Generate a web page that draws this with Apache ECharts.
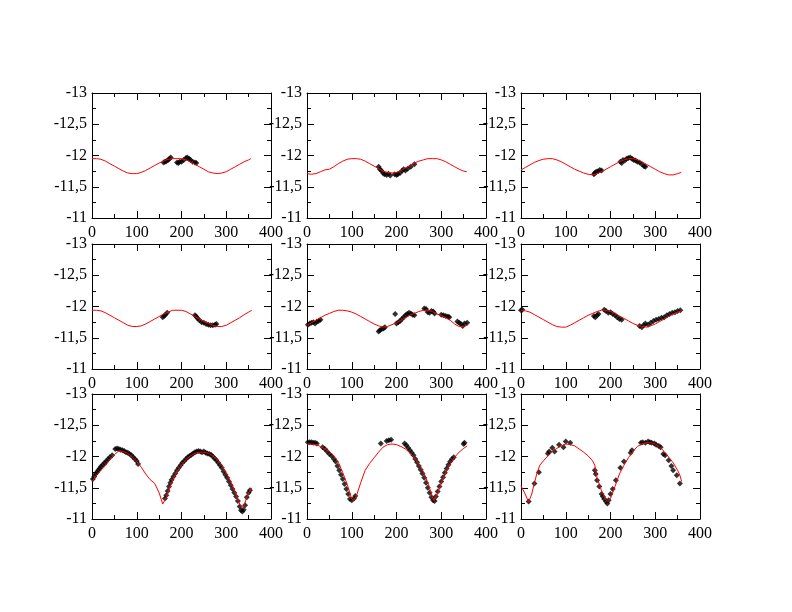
<!DOCTYPE html>
<html>
<head>
<meta charset="utf-8">
<script src="https://cdn.jsdelivr.net/npm/echarts@6/dist/echarts.min.js"></script>
<style>
  html, body { margin: 0; padding: 0; background: #fff; }
  #chart { width: 792px; height: 612px; }
</style>
</head>
<body>
<div id="chart"></div>
<script>
// x ticks / y ticks
var xTicks = [0, 100, 200, 300, 400];
var yTicks = [-13, -12.5, -12, -11.5, -11];

// panel 1 (row 1, col 1)
var model1 = [[0,-11.95],[10,-11.95],[20,-11.94],[30,-11.91],[40,-11.87],[50,-11.83],[60,-11.79],[70,-11.75],[80,-11.72],[90,-11.71],[100,-11.71],[110,-11.73],[120,-11.76],[130,-11.80],[140,-11.84],[150,-11.88],[160,-11.91],[170,-11.94],[180,-11.95],[190,-11.95],[200,-11.95],[210,-11.93],[220,-11.90],[230,-11.86],[240,-11.82],[250,-11.78],[260,-11.74],[270,-11.72],[280,-11.71],[290,-11.72],[300,-11.74],[310,-11.78],[320,-11.82],[330,-11.86],[340,-11.90],[350,-11.93],[355,-11.95]];
var obs1 = [[160,-11.89],[163,-11.90],[166,-11.91],[170,-11.93],[173,-11.95],[176,-11.97],[190,-11.89],[193,-11.88],[196,-11.90],[200,-11.90],[205,-11.93],[210,-11.96],[213,-11.97],[217,-11.95],[220,-11.93],[225,-11.90],[230,-11.89],[233,-11.88]];

// panel 2 (row 1, col 2)
var model2 = [[0,-11.71],[10,-11.70],[20,-11.71],[30,-11.74],[40,-11.77],[50,-11.78],[60,-11.82],[70,-11.87],[80,-11.91],[90,-11.94],[100,-11.95],[110,-11.95],[120,-11.94],[130,-11.91],[140,-11.87],[150,-11.83],[160,-11.79],[170,-11.75],[180,-11.73],[190,-11.72],[200,-11.73],[210,-11.76],[220,-11.80],[230,-11.84],[240,-11.88],[250,-11.91],[260,-11.93],[270,-11.95],[280,-11.95],[290,-11.95],[300,-11.93],[310,-11.90],[320,-11.86],[330,-11.82],[340,-11.78],[350,-11.75],[357,-11.74]];
var obs2 = [[160,-11.82],[163,-11.78],[166,-11.76],[170,-11.72],[173,-11.70],[178,-11.69],[182,-11.71],[186,-11.68],[196,-11.70],[200,-11.69],[203,-11.70],[208,-11.72],[213,-11.76],[216,-11.78],[220,-11.76],[225,-11.79],[232,-11.82],[240,-11.86]];

// panel 3 (row 1, col 3)
var model3 = [[0,-11.77],[10,-11.81],[20,-11.85],[30,-11.89],[40,-11.92],[50,-11.94],[60,-11.95],[70,-11.95],[80,-11.93],[90,-11.90],[100,-11.86],[110,-11.82],[120,-11.78],[130,-11.75],[140,-11.72],[150,-11.70],[160,-11.69],[170,-11.71],[180,-11.74],[190,-11.78],[200,-11.82],[210,-11.86],[220,-11.90],[230,-11.93],[240,-11.95],[250,-11.95],[260,-11.93],[270,-11.90],[280,-11.86],[290,-11.82],[300,-11.78],[310,-11.74],[320,-11.71],[330,-11.69],[340,-11.69],[350,-11.71],[358,-11.73]];
var obs3 = [[163,-11.70],[165,-11.72],[168,-11.74],[172,-11.75],[176,-11.77],[180,-11.76],[222,-11.90],[225,-11.88],[228,-11.93],[232,-11.92],[236,-11.95],[240,-11.96],[244,-11.97],[248,-11.95],[252,-11.93],[256,-11.92],[260,-11.90],[265,-11.89],[270,-11.86],[275,-11.83],[278,-11.82]];

// panel 4 (row 2, col 1)
var model4 = [[0,-11.94],[10,-11.94],[20,-11.93],[30,-11.90],[40,-11.86],[50,-11.82],[60,-11.78],[70,-11.74],[80,-11.70],[90,-11.68],[100,-11.68],[110,-11.69],[120,-11.72],[130,-11.76],[140,-11.80],[150,-11.84],[160,-11.88],[170,-11.91],[180,-11.94],[190,-11.94],[200,-11.94],[210,-11.92],[220,-11.88],[230,-11.84],[240,-11.80],[250,-11.76],[260,-11.73],[270,-11.70],[280,-11.68],[290,-11.68],[300,-11.70],[310,-11.74],[320,-11.78],[330,-11.82],[340,-11.87],[350,-11.91],[357,-11.94]];
var obs4 = [[158,-11.83],[161,-11.85],[164,-11.87],[168,-11.90],[230,-11.86],[233,-11.84],[236,-11.81],[240,-11.78],[245,-11.75],[250,-11.74],[255,-11.72],[260,-11.71],[265,-11.70],[270,-11.70],[275,-11.71],[278,-11.72]];

// panel 5 (row 2, col 2)
var model5 = [[0,-11.70],[10,-11.74],[20,-11.78],[30,-11.82],[40,-11.86],[50,-11.89],[60,-11.92],[70,-11.94],[80,-11.94],[90,-11.93],[100,-11.91],[110,-11.88],[120,-11.84],[130,-11.80],[140,-11.76],[150,-11.72],[160,-11.69],[170,-11.67],[180,-11.68],[190,-11.71],[200,-11.74],[210,-11.78],[220,-11.82],[230,-11.86],[240,-11.89],[250,-11.92],[260,-11.94],[270,-11.94],[280,-11.92],[290,-11.88],[300,-11.86],[310,-11.82],[320,-11.78],[330,-11.72],[340,-11.68],[350,-11.68],[358,-11.70]];
var obs5 = [[2,-11.71],[6,-11.73],[10,-11.74],[14,-11.75],[18,-11.73],[22,-11.76],[26,-11.77],[30,-11.79],[160,-11.60],[163,-11.62],[167,-11.64],[171,-11.65],[174,-11.67],[197,-11.88],[200,-11.73],[204,-11.75],[208,-11.77],[212,-11.80],[216,-11.83],[220,-11.86],[224,-11.88],[228,-11.90],[232,-11.89],[236,-11.87],[240,-11.86],[262,-11.97],[266,-11.96],[270,-11.91],[274,-11.90],[278,-11.93],[282,-11.92],[285,-11.89],[300,-11.87],[305,-11.86],[310,-11.85],[315,-11.84],[318,-11.83],[336,-11.76],[340,-11.74],[344,-11.72],[348,-11.69],[352,-11.73],[358,-11.74]];

// panel 6 (row 2, col 3)
var model6 = [[0,-11.94],[10,-11.93],[20,-11.91],[30,-11.87],[40,-11.83],[50,-11.79],[60,-11.75],[70,-11.71],[80,-11.68],[90,-11.67],[100,-11.67],[110,-11.70],[120,-11.74],[130,-11.78],[140,-11.82],[150,-11.86],[160,-11.89],[170,-11.92],[180,-11.94],[190,-11.94],[200,-11.92],[210,-11.89],[220,-11.85],[230,-11.81],[240,-11.77],[250,-11.73],[260,-11.70],[270,-11.68],[280,-11.67],[290,-11.69],[300,-11.72],[310,-11.76],[320,-11.80],[330,-11.84],[340,-11.88],[350,-11.91],[359,-11.93]];
var obs6 = [[0,-11.94],[3,-11.95],[163,-11.85],[166,-11.83],[170,-11.86],[173,-11.88],[186,-11.95],[190,-11.93],[195,-11.90],[200,-11.91],[205,-11.88],[210,-11.86],[215,-11.83],[220,-11.80],[225,-11.79],[265,-11.69],[270,-11.67],[274,-11.70],[278,-11.73],[284,-11.71],[290,-11.74],[296,-11.77],[302,-11.79],[308,-11.80],[314,-11.82],[320,-11.83],[326,-11.86],[332,-11.88],[338,-11.90],[344,-11.91],[350,-11.93],[356,-11.94]];

// panel 7 (row 3, col 1)
var model7 = [[0,-11.60],[10,-11.70],[20,-11.78],[30,-11.85],[40,-11.95],[50,-12.03],[60,-12.09],[70,-12.08],[80,-12.05],[90,-11.99],[100,-11.92],[110,-11.83],[120,-11.72],[130,-11.63],[140,-11.57],[150,-11.42],[158,-11.24],[165,-11.33],[170,-11.42],[180,-11.62],[190,-11.76],[200,-11.86],[210,-11.95],[220,-12.01],[230,-12.05],[240,-12.07],[250,-12.07],[260,-12.05],[270,-12.01],[280,-11.95],[290,-11.86],[300,-11.74],[310,-11.60],[320,-11.43],[330,-11.24],[335,-11.18],[340,-11.22],[345,-11.33],[350,-11.42],[357,-11.50]];
var obs7 = [[2,-11.64],[5,-11.68],[8,-11.72],[11,-11.75],[14,-11.78],[17,-11.81],[20,-11.84],[24,-11.87],[28,-11.90],[32,-11.93],[36,-11.96],[40,-11.99],[45,-12.02],[52,-12.12],[56,-12.13],[60,-12.12],[64,-12.11],[68,-12.10],[72,-12.09],[76,-12.07],[80,-12.06],[84,-12.04],[88,-12.02],[92,-11.99],[96,-11.96],[100,-11.93],[103,-11.88],[163,-11.33],[166,-11.38],[169,-11.45],[172,-11.52],[175,-11.58],[178,-11.63],[182,-11.68],[186,-11.73],[190,-11.78],[194,-11.82],[198,-11.86],[202,-11.90],[206,-11.93],[210,-11.96],[214,-11.99],[218,-12.01],[222,-12.03],[226,-12.05],[230,-12.07],[234,-12.08],[238,-12.09],[242,-12.08],[246,-12.07],[250,-12.08],[254,-12.06],[258,-12.05],[262,-12.04],[266,-12.03],[270,-12.00],[274,-11.97],[278,-11.94],[282,-11.90],[286,-11.86],[290,-11.82],[294,-11.76],[298,-11.71],[302,-11.66],[306,-11.60],[310,-11.54],[314,-11.48],[318,-11.42],[322,-11.36],[326,-11.29],[330,-11.20],[333,-11.14],[336,-11.12],[339,-11.15],[342,-11.22],[346,-11.35],[350,-11.42],[353,-11.46]];

// panel 8 (row 3, col 2)
var model8 = [[0,-12.20],[10,-12.20],[20,-12.19],[30,-12.16],[40,-12.12],[50,-12.08],[60,-12.01],[70,-11.91],[80,-11.74],[90,-11.55],[100,-11.32],[105,-11.30],[110,-11.36],[120,-11.58],[130,-11.78],[140,-11.89],[150,-11.98],[160,-12.07],[170,-12.15],[180,-12.19],[190,-12.20],[200,-12.19],[210,-12.16],[220,-12.12],[230,-12.06],[240,-11.98],[250,-11.88],[260,-11.76],[270,-11.58],[280,-11.36],[284,-11.29],[290,-11.38],[300,-11.57],[310,-11.74],[320,-11.88],[330,-11.99],[340,-12.07],[350,-12.13],[358,-12.17]];
var obs8 = [[2,-12.23],[6,-12.23],[10,-12.23],[14,-12.22],[18,-12.22],[22,-12.21],[35,-12.15],[40,-12.12],[45,-12.08],[50,-12.04],[55,-12.01],[60,-11.96],[64,-11.92],[68,-11.85],[72,-11.78],[76,-11.71],[80,-11.64],[84,-11.56],[88,-11.48],[92,-11.40],[96,-11.32],[100,-11.30],[105,-11.33],[108,-11.37],[165,-12.21],[178,-12.25],[183,-12.26],[188,-12.27],[218,-12.21],[222,-12.18],[226,-12.14],[230,-12.10],[234,-12.06],[238,-12.02],[242,-11.96],[246,-11.91],[250,-11.85],[254,-11.79],[258,-11.73],[262,-11.66],[266,-11.58],[270,-11.50],[274,-11.42],[278,-11.35],[282,-11.30],[285,-11.29],[288,-11.36],[292,-11.44],[296,-11.52],[300,-11.60],[304,-11.67],[308,-11.74],[312,-11.81],[316,-11.87],[320,-11.92],[324,-11.96],[328,-11.99],[350,-12.20],[352,-12.22]];

// panel 9 (row 3, col 3)
var model9 = [[0,-11.53],[8,-11.42],[17,-11.27],[24,-11.40],[30,-11.58],[36,-11.74],[42,-11.86],[50,-11.93],[60,-12.01],[70,-12.08],[80,-12.13],[90,-12.17],[100,-12.20],[110,-12.19],[120,-12.17],[130,-12.12],[140,-12.07],[150,-12.01],[160,-11.93],[165,-11.86],[170,-11.66],[180,-11.45],[190,-11.30],[195,-11.28],[200,-11.33],[210,-11.52],[220,-11.72],[230,-11.86],[240,-11.98],[250,-12.08],[260,-12.16],[270,-12.20],[280,-12.22],[290,-12.22],[300,-12.20],[310,-12.15],[320,-12.08],[330,-11.99],[340,-11.90],[350,-11.78],[355,-11.70],[359,-11.60]];
var obs9 = [[17,-11.28],[30,-11.57],[40,-11.75],[60,-12.05],[63,-12.08],[70,-12.14],[75,-12.08],[85,-12.19],[95,-12.15],[100,-12.24],[110,-12.22],[165,-11.78],[167,-11.72],[170,-11.62],[175,-11.52],[180,-11.40],[183,-11.36],[186,-11.32],[190,-11.28],[193,-11.25],[196,-11.30],[200,-11.40],[205,-11.48],[212,-11.62],[222,-11.82],[230,-11.92],[245,-12.06],[248,-12.10],[268,-12.22],[272,-12.23],[278,-12.22],[284,-12.24],[288,-12.23],[292,-12.22],[298,-12.21],[302,-12.19],[308,-12.17],[312,-12.15],[318,-12.04],[322,-12.02],[330,-11.94],[336,-11.85],[340,-11.78],[348,-11.70],[355,-11.57]];

var models = [model1, model2, model3, model4, model5, model6, model7, model8, model9];
var observed = [obs1, obs2, obs3, obs4, obs5, obs6, obs7, obs8, obs9];

var chart = echarts.init(document.getElementById('chart'));

var lefts = [92, 307, 521];
var tops = [93, 244, 394];
var font = 'Liberation Serif';

var grids = [], xAxes = [], yAxes = [], series = [];

function tickStyle(show) {
    return {
        axisLine: { show: true, onZero: false, lineStyle: { color: '#000', width: 1 } },
        axisTick: { show: true, inside: true, length: 7, lineStyle: { color: '#000' } },
        minorTick: { show: true, splitNumber: 2, length: 4, lineStyle: { color: '#000' } },
        splitLine: { show: false },
        axisLabel: { show: show, color: '#000', fontFamily: font, fontSize: 16 }
    };
}

for (var i = 0; i < 9; i++) {
    var row = Math.floor(i / 3), col = i % 3;
    grids.push({ left: lefts[col], top: tops[row], width: 179, height: 125 });

    // bottom + mirrored top
    [true, false].forEach(function (labels) {
        var ax = tickStyle(labels);
        ax.type = 'value';
        ax.gridIndex = i;
        ax.position = labels ? 'bottom' : 'top';
        ax.min = xTicks[0];
        ax.max = xTicks[xTicks.length - 1];
        ax.interval = 100;
        ax.axisLabel.margin = 7;
        xAxes.push(ax);
    });
    // left + mirrored right
    [true, false].forEach(function (labels) {
        var ax = tickStyle(labels);
        ax.type = 'value';
        ax.gridIndex = i;
        ax.position = labels ? 'left' : 'right';
        ax.inverse = true;
        ax.min = yTicks[0];
        ax.max = yTicks[yTicks.length - 1];
        ax.interval = 0.5;
        ax.axisLabel.margin = 5;
        ax.axisLabel.formatter = function (v) { return String(v).replace('.', ','); };
        yAxes.push(ax);
    });

    series.push({
        type: 'scatter',
        xAxisIndex: 2 * i,
        yAxisIndex: 2 * i,
        data: observed[i],
        symbol: 'diamond',
        symbolSize: 6,
        itemStyle: { color: '#000' },
        silent: true,
        z: 2
    });
    series.push({
        type: 'line',
        xAxisIndex: 2 * i,
        yAxisIndex: 2 * i,
        data: models[i],
        showSymbol: false,
        lineStyle: { color: '#ff0000', width: 1 },
        silent: true,
        z: 3
    });
}

chart.setOption({
    backgroundColor: '#fff',
    animation: false,
    grid: grids,
    xAxis: xAxes,
    yAxis: yAxes,
    series: series
});
</script>
</body>
</html>
